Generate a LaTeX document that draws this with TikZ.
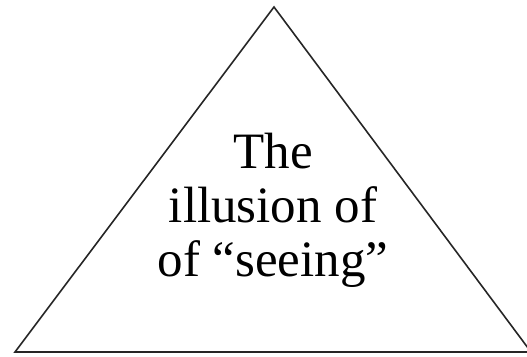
\documentclass[tikz,border=0pt]{standalone}
\usepackage{fontspec}
\setmainfont{Liberation Serif}
\usetikzlibrary{positioning}

\begin{document}
\begin{tikzpicture}[x=1pt, y=1pt,
  edge/.style={draw=black!85, line width=1.6pt, line join=miter},
  caption/.style={align=center, inner sep=0pt, font=\fontsize{51}{54}\selectfont}]
  \useasboundingbox (0,0) rectangle (527,356);
  \coordinate (apex) at (274,349);
  \coordinate (left) at (15,4);
  \coordinate (right) at (531,4);
  \draw[edge] (left) -- (apex) -- (right) -- cycle;
  \node[caption] (label) at (273,146) {The\\illusion of\\of “seeing”};
\end{tikzpicture}
\end{document}
